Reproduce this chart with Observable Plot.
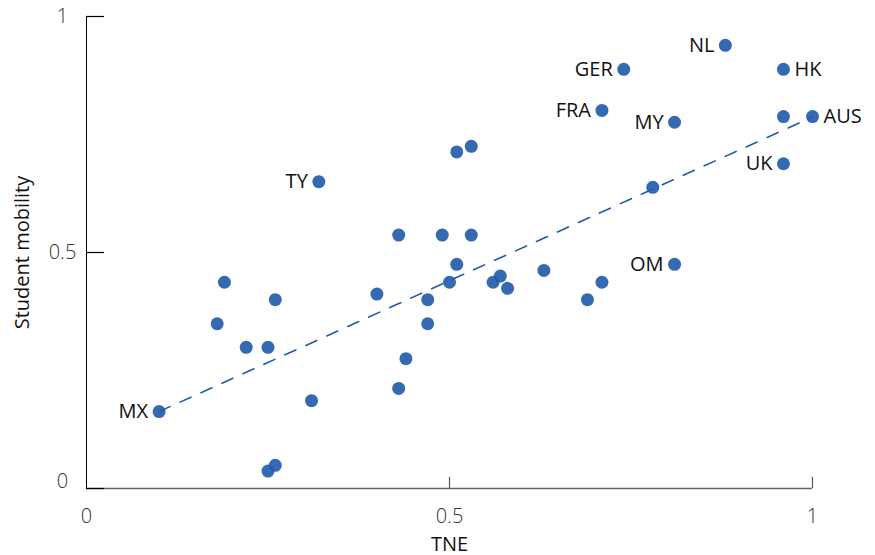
<!DOCTYPE html>
<html><head><meta charset="utf-8">
<script src="https://cdn.jsdelivr.net/npm/d3@7"></script>
<script src="https://cdn.jsdelivr.net/npm/@observablehq/plot@0.6"></script>
<style>body{margin:0;background:#fff} svg{display:block}</style>
</head><body><div id="chart"></div>
<script>
// Data
const labels = ["MX","","","","","","","","","","","","","","","","","","","","","","","","TY","","","","NL","GER","HK","FRA","MY","","AUS","UK","","OM"];
const tne = [0.10,0.25,0.26,0.31,0.19,0.26,0.18,0.22,0.25,0.40,0.47,0.47,0.44,0.43,0.51,0.50,0.56,0.57,0.58,0.63,0.69,0.71,0.51,0.53,0.32,0.43,0.49,0.53,0.88,0.74,0.96,0.71,0.81,0.96,1.00,0.96,0.78,0.81];
const mobility = [0.163,0.037,0.049,0.186,0.437,0.400,0.349,0.299,0.299,0.412,0.400,0.349,0.275,0.212,0.475,0.437,0.437,0.450,0.424,0.462,0.400,0.437,0.713,0.725,0.650,0.537,0.537,0.537,0.939,0.888,0.888,0.801,0.776,0.788,0.788,0.688,0.638,0.475];
const rightLabels = ["HK","AUS"];
const trendX = [0.10, 1.00];
const trendY = [0.163, 0.787];
const xTicks = [0, 0.5, 1];
const xTickLabels = ["0", "0.5", "1"];
const yTicks = [0, 0.5, 1];
const yTickLabels = ["0", "0.5", "1"];

const W = 875, H = 555, ML = 86, MR = 63, MT = 16, MB = 67;
const plotW = W - ML - MR, plotH = H - MT - MB;
const blue = "#1f5aab";
const font = "'Open Sans', 'Noto Sans', sans-serif";

const rows = tne.map((x, i) => ({x, y: mobility[i], label: labels[i]}));
const trend = trendX.map((x, i) => ({x, y: trendY[i]}));
const xt = xTicks.map((v, i) => ({v, t: xTickLabels[i]}));
const yt = yTicks.map((v, i) => ({v, t: yTickLabels[i]}));

const chart = Plot.plot({
  width: W, height: H,
  marginLeft: ML, marginRight: MR, marginTop: MT, marginBottom: MB,
  style: {fontFamily: font, background: "#fff"},
  x: {domain: [0, 1], axis: null},
  y: {domain: [0, 1], axis: null},
  marks: [
    // x axis line and upward ticks
    Plot.ruleY([0], {stroke: "#666", strokeWidth: 1.5}),
    Plot.tickX(xTicks.filter(d => d > 0), {x: d => d, stroke: "#555", strokeWidth: 1.2, insetTop: plotH - 11}),
    // y axis line and inward ticks
    Plot.ruleX([0], {stroke: "#000", strokeWidth: 1}),
    Plot.tickY(yTicks, {y: d => d, stroke: "#000", strokeWidth: 1.2, insetRight: plotW - 18}),
    // tick labels
    Plot.text(xt, {x: "v", text: "t", frameAnchor: "bottom", dy: 34, textAnchor: "middle", fontSize: 20, fontWeight: 300, fill: "#333"}),
    Plot.text(yt.filter(d => d.v > 0), {y: "v", text: "t", frameAnchor: "left", dx: -24, textAnchor: "middle", fontSize: 20, fontWeight: 300, fill: "#333"}),
    Plot.text(yt.filter(d => d.v === 0), {y: "v", text: "t", frameAnchor: "left", dx: -24, dy: -7, textAnchor: "middle", fontSize: 20, fontWeight: 300, fill: "#333"}),
    // axis titles
    Plot.text(["TNE"], {frameAnchor: "bottom", dy: 62, textAnchor: "middle", fontSize: 20, fill: "#111"}),
    Plot.text(["Student mobility"], {frameAnchor: "left", dx: -64, rotate: -90, textAnchor: "middle", fontSize: 20, fill: "#111"}),
    // trend line
    Plot.line(trend, {x: "x", y: "y", stroke: blue, strokeWidth: 1.6, strokeDasharray: "12,11"}),
    // points
    Plot.dot(rows, {x: "x", y: "y", r: 6.5, fill: blue, fillOpacity: 0.9, stroke: "none"}),
    // point labels
    Plot.text(rows.filter(d => d.label && !rightLabels.includes(d.label)), {x: "x", y: "y", text: "label", textAnchor: "end", dx: -11, fontSize: 20, fill: "#111"}),
    Plot.text(rows.filter(d => rightLabels.includes(d.label)), {x: "x", y: "y", text: "label", textAnchor: "start", dx: 11, fontSize: 20, fill: "#111"})
  ]
});
document.getElementById("chart").appendChild(chart);
</script>
</body></html>
